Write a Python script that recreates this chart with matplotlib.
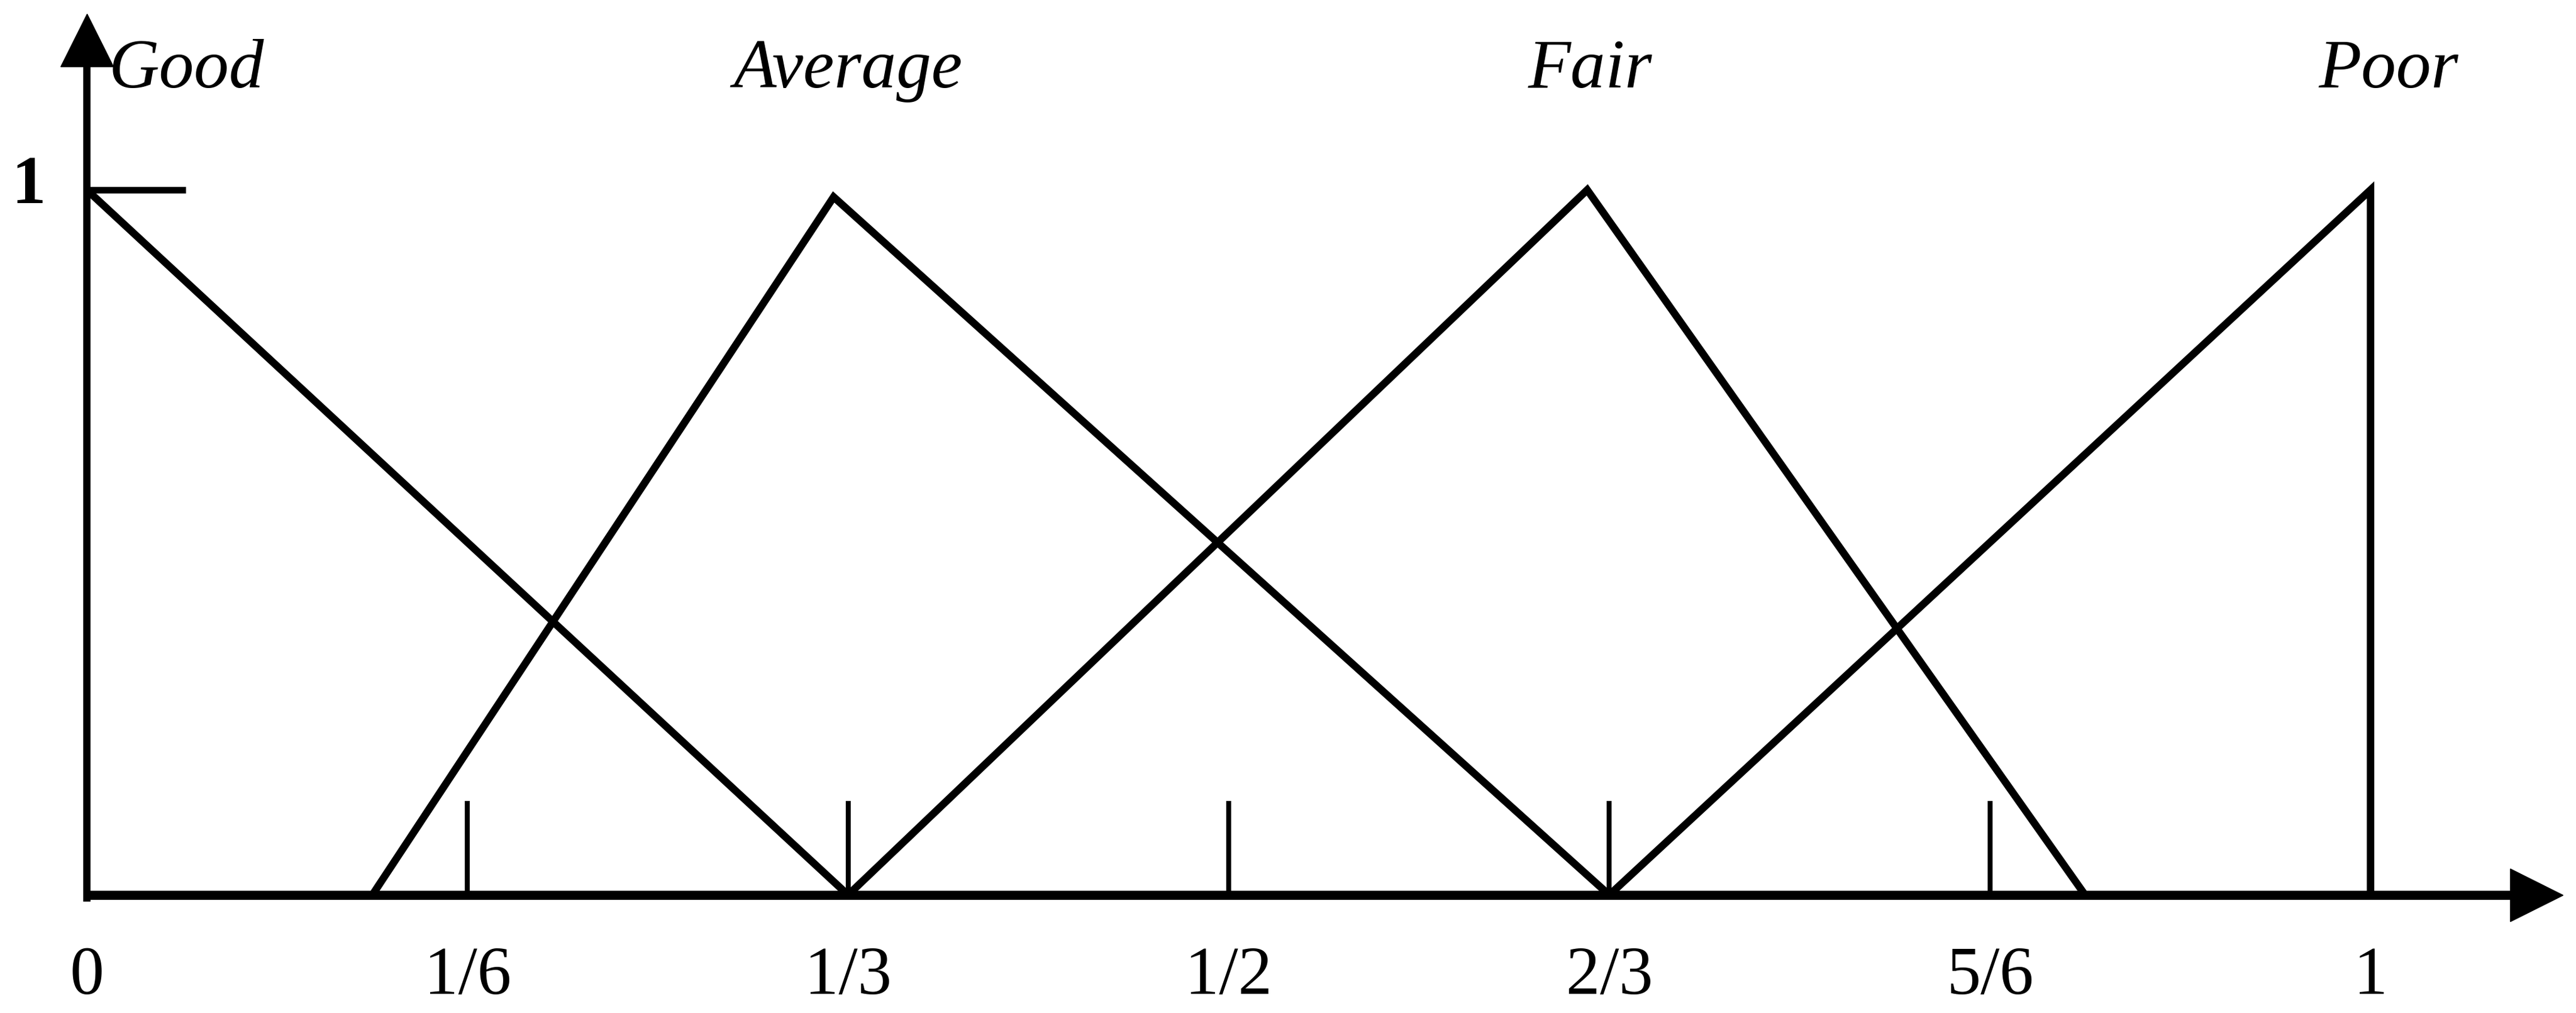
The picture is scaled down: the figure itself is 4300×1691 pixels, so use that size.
import matplotlib
matplotlib.use("Agg")
import matplotlib.pyplot as plt

# membership functions (x in [0, 1], membership in [0, 1])
SET_NAMES = ["Good", "Average", "Fair", "Poor"]
GOOD_X = [0.0, 1 / 3]
GOOD_Y = [1.0, 0.0]
AVERAGE_X = [0.125, 0.327, 2 / 3]
AVERAGE_Y = [0.0, 0.99, 0.0]
FAIR_X = [1 / 3, 0.657, 0.875]
FAIR_Y = [0.0, 1.0, 0.0]
POOR_X = [2 / 3, 1.0, 1.0]
POOR_Y = [0.0, 1.0, 0.0]
SET_LABEL_X = [0.0435, 0.3334, 0.6582, 1.008]

TICK_POS = [1 / 6, 1 / 3, 1 / 2, 2 / 3, 5 / 6]
TICK_LABEL_POS = [0.0, 1 / 6, 1 / 3, 1 / 2, 2 / 3, 5 / 6, 1.0]
TICK_LABELS = ["0", "1/6", "1/3", "1/2", "2/3", "5/6", "1"]

SERIF = ["Liberation Serif", "DejaVu Serif"]
LINE_W = 9.0
AXIS_W = 11.0
TICK_W = 6.0

fig = plt.figure(figsize=(43, 16.91), dpi=100)
fig.patch.set_facecolor("white")
# data box [0,1]x[0,1] placed where the drawing sits on the page
ax = fig.add_axes([145 / 4300, 197 / 1691, 3812 / 4300, 1177 / 1691])
ax.set_xlim(0, 1)
ax.set_ylim(0, 1)
ax.axis("off")

# axes with arrowheads
ax.plot([0, 1.0611], [0, 0], color="black", lw=AXIS_W, clip_on=False,
        solid_capstyle="butt")
ax.plot([0, 0], [-0.009, 1.174], color="black", lw=AXIS_W * 0.8, clip_on=False,
        solid_capstyle="butt")
ax.plot([1.0727], [0], marker=">", markersize=63, color="black", clip_on=False)
ax.plot([0], [1.212], marker="^", markersize=63, color="black", clip_on=False)

# unit mark on the membership axis
ax.plot([0, 0.0433], [1, 1], color="black", lw=TICK_W * 1.3, clip_on=False,
        solid_capstyle="butt")
ax.text(-0.0254, 1.005, "1", ha="center", va="center", fontsize=82,
        weight="bold", family=SERIF, clip_on=False)

# ticks on the x axis
ax.vlines(TICK_POS, 0, 0.133, color="black", lw=TICK_W)
for pos, lab in zip(TICK_LABEL_POS, TICK_LABELS):
    ax.text(pos, -0.117, lab, ha="center", va="center", fontsize=82,
            family=SERIF, clip_on=False)

# membership triangles
for xs, ys in [(GOOD_X, GOOD_Y), (AVERAGE_X, AVERAGE_Y),
               (FAIR_X, FAIR_Y), (POOR_X, POOR_Y)]:
    ax.plot(xs, ys, color="black", lw=LINE_W, solid_joinstyle="miter",
            solid_capstyle="butt", clip_on=False)

for name, lx in zip(SET_NAMES, SET_LABEL_X):
    ax.text(lx, 1.145, name, ha="center", va="baseline", fontsize=84,
            style="italic", family=SERIF, clip_on=False)

fig.savefig("out.png", dpi=100)
